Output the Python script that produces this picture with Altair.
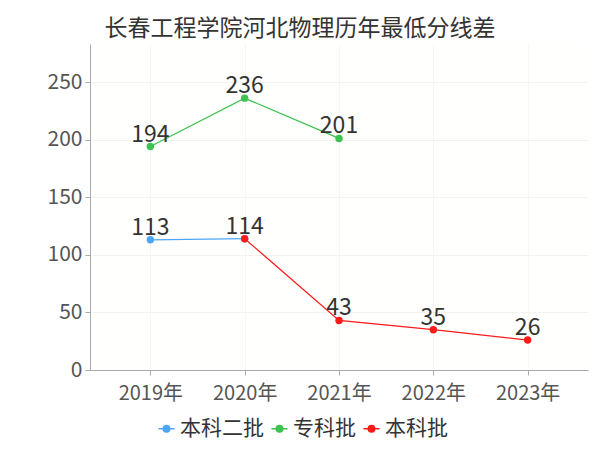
import altair as alt
import pandas as pd

years = ["2019年", "2020年", "2021年", "2022年", "2023年"]
series_names = ["本科二批", "专科批", "本科批"]
colors = ["#4da6f5", "#3cc250", "#ff1a1a"]

s1_years = ["2019年", "2020年"]
s1_vals = [113, 114]
s2_years = ["2019年", "2020年", "2021年"]
s2_vals = [194, 236, 201]
s3_years = ["2020年", "2021年", "2022年", "2023年"]
s3_vals = [114, 43, 35, 26]

rows = []
for name, ys, vs in [("本科二批", s1_years, s1_vals), ("专科批", s2_years, s2_vals), ("本科批", s3_years, s3_vals)]:
    for y, v in zip(ys, vs):
        rows.append({"year": y, "value": v, "series": name})
df = pd.DataFrame(rows)

FONT = "Noto Sans CJK SC"

x = alt.X("year:O", scale=alt.Scale(type="point", domain=years, padding=0.64),
          axis=alt.Axis(title=None, labelAngle=0, labelFontSize=20, labelColor="#555555",
                        labelFont=FONT, domainColor="#aaaaaa", tickColor="#aaaaaa",
                        tickSize=5, grid=True, gridColor="#f7f7f2", labelPadding=8))
y = alt.Y("value:Q", scale=alt.Scale(domain=[0, 283], nice=False),
          axis=alt.Axis(title=None, values=[0, 50, 100, 150, 200, 250], labelFontSize=21,
                        labelColor="#555555", labelFont=FONT, domainColor="#aaaaaa",
                        tickColor="#aaaaaa", tickSize=5, gridColor="#f3f3ee", labelPadding=3))
color = alt.Color("series:N", scale=alt.Scale(domain=series_names, range=colors),
                  legend=alt.Legend(title=None, orient="none", direction="horizontal",
                                    legendX=66, legendY=374,
                                    symbolType="M-1,0L1,0M-0.4,0A0.4,0.4 0 1,1 0.4,0A0.4,0.4 0 1,1 -0.4,0",
                                    symbolSize=260, symbolStrokeWidth=1.5,
                                    labelFontSize=21, labelFont=FONT, labelColor="#333333",
                                    columnPadding=4, labelOffset=3))

base = alt.Chart(df).encode(x=x, y=y, color=color,
                            order=alt.Order("series:N"))

lines = base.mark_line(strokeWidth=1.3).encode(detail="series:N")
points = base.mark_point(filled=True, size=55, opacity=1)
labels = alt.Chart(df).transform_filter(
    "!(datum.series == '本科二批' && datum.year == '2020年')"
).mark_text(dy=-12, fontSize=23, font=FONT, color="#333333").encode(
    x=x, y=y, text="value:Q")

chart = alt.layer(lines, points, labels).properties(
    width=498, height=326,
    autosize=alt.AutoSizeParams(type="none"),
    padding={"left": 82, "top": 36, "right": 4, "bottom": 72},
    title=alt.TitleParams("长春工程学院河北物理历年最低分线差", fontSize=23, font=FONT,
                          color="#333333", fontWeight="normal", anchor="middle", dx=-39, offset=3),
).configure_view(stroke=None, fill="#fffffd")

chart.save("out.html", embed_options={"renderer": "svg", "actions": False})
